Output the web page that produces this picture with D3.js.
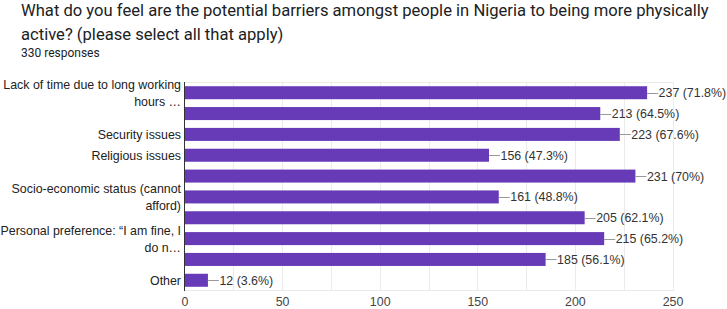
<!DOCTYPE html>
<html><head><meta charset="utf-8">
<script src="https://cdn.jsdelivr.net/npm/d3@7"></script>
<style>
body{margin:0;background:#fff;}
svg{display:block;}
</style></head>
<body><svg id="c" width="727" height="309"></svg>
<script>
const titleLines = ["What do you feel are the potential barriers amongst people in Nigeria to being more physically", "active? (please select all that apply)"];
const subtitle = "330 responses";
// category labels as displayed (blank where the reference hides the label)
const categories = [
  ["Lack of time due to long working", "hours …"],
  [],
  ["Security issues"],
  ["Religious issues"],
  [],
  ["Socio-economic status (cannot", "afford)"],
  [],
  ["Personal preference: “I am fine, I", "do n…"],
  [],
  ["Other"]
];
const values = [237, 213, 223, 156, 231, 161, 205, 215, 185, 12];
const percents = ["71.8%", "64.5%", "67.6%", "47.3%", "70%", "48.8%", "62.1%", "65.2%", "56.1%", "3.6%"];
const xTicks = [0, 50, 100, 150, 200, 250];
const gridTicks = [25, 50, 75, 100, 125, 150, 175, 200, 225, 250];

const FONT = "'Liberation Sans', Arial, sans-serif";
const FS = 12.4;
const svg = d3.select("#c");
const ids = d3.range(values.length);

const x = d3.scaleLinear().domain([0, 250]).range([184.5, 672.5]);
const y = d3.scaleBand().domain(ids).range([82.3, 290.7]).paddingInner(0.376).paddingOuter(0.188);

// title
svg.append("g").selectAll("text").data(titleLines).join("text")
  .attr("x", 21).attr("y", (d, i) => 16 + i * 23.5)
  .attr("font-family", "Roboto, 'Open Sans', sans-serif").attr("font-size", 16.6)
  .attr("fill", "#202124").text(d => d);
svg.append("text").attr("x", 21).attr("y", 57)
  .attr("font-family", "Roboto, sans-serif").attr("font-size", 12)
  .attr("fill", "#202124").text(subtitle);

// gridlines
svg.append("g").selectAll("line").data(gridTicks).join("line")
  .attr("x1", d => Math.round(x(d)) + 0.5).attr("x2", d => Math.round(x(d)) + 0.5)
  .attr("y1", 82).attr("y2", 291)
  .attr("stroke", "#ebebeb").attr("stroke-width", 1);
svg.append("line").attr("x1", 184).attr("x2", 673).attr("y1", 82.5).attr("y2", 82.5).attr("stroke", "#ebebeb");
svg.append("line").attr("x1", 184).attr("x2", 673).attr("y1", 290.5).attr("y2", 290.5).attr("stroke", "#ebebeb");

// bars
svg.append("g").selectAll("rect").data(ids).join("rect")
  .attr("x", x(0)).attr("y", i => y(i))
  .attr("width", i => x(values[i]) - x(0)).attr("height", y.bandwidth())
  .attr("fill", "#673ab7");

// leader lines and value labels
const lab = svg.append("g");
ids.forEach(i => {
  const yc = y(i) + y.bandwidth() / 2;
  lab.append("line").attr("x1", x(values[i])).attr("x2", x(values[i]) + 11)
    .attr("y1", Math.round(yc) + 0.5).attr("y2", Math.round(yc) + 0.5)
    .attr("stroke", "#999").attr("stroke-width", 1);
  lab.append("text").attr("x", x(values[i]) + 11.5).attr("y", yc)
    .attr("dy", "0.36em")
    .attr("font-family", FONT).attr("font-size", FS)
    .attr("fill", "#333").text(values[i] + " (" + percents[i] + ")");
});

// y axis line
svg.append("line").attr("x1", 184.5).attr("x2", 184.5).attr("y1", 82).attr("y2", 291)
  .attr("stroke", "#333").attr("stroke-width", 1);

// category labels
const cl = svg.append("g");
ids.forEach(i => {
  const lines = categories[i];
  const yc = y(i) + y.bandwidth() / 2;
  const lh = 17;
  lines.forEach((t, k) => {
    cl.append("text").attr("x", 181).attr("y", yc + (k - (lines.length - 1) / 2) * lh)
      .attr("dy", "0.36em").attr("text-anchor", "end")
      .attr("font-family", FONT).attr("font-size", FS)
      .attr("fill", "#222").text(t);
  });
});

// x axis ticks
const xAxis = d3.axisBottom(x).tickValues(xTicks).tickSize(0).tickPadding(0);
const ga = svg.append("g").attr("transform", "translate(0,297)").call(xAxis);
ga.select(".domain").remove();
ga.selectAll("text").attr("font-family", FONT)
  .attr("font-size", FS).attr("fill", "#444").attr("dy", "0.71em");
</script></body></html>
